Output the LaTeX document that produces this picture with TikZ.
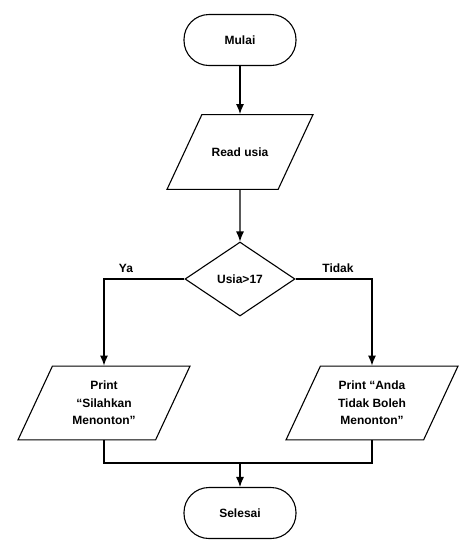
\documentclass[tikz,border=0pt]{standalone}
\usepackage{fontspec}
\setmainfont{Liberation Sans}
\usepackage{tikz}
\usetikzlibrary{shapes.geometric}
\usetikzlibrary{arrows.meta}
\tikzstyle{every node}=[font=\bfseries\fontsize{12}{17.5}\selectfont]
\tikzstyle{terminal}=[draw, rectangle, rounded corners=25pt, minimum width=112pt, minimum height=51pt]
\tikzstyle{io}=[draw, trapezium, trapezium left angle=65, trapezium right angle=115, trapezium stretches body, align=center]
\tikzstyle{decision}=[draw, diamond, minimum width=110pt, minimum height=74pt, inner sep=0pt]

\begin{document}
\begin{tikzpicture}[>={Latex[length=10pt,width=8pt]}, x=1pt, y=-1pt, line width=1.1pt]
            \useasboundingbox (0,0) rectangle (468,550);

            \node [terminal] (mulai) at (240, 40) {Mulai};
            \node [io, inner ysep=33pt, minimum width=146pt] (read) at (240, 152) {Read usia};
            \node [decision] (cek) at (240, 279) {Usia>17};
            \node [io, inner ysep=15pt, minimum width=172pt] (printya) at (104, 403) {Print\\“Silahkan\\Menonton”};
            \node [io, inner ysep=15pt, minimum width=172pt] (printtidak) at (372, 403) {Print “Anda\\Tidak Boleh\\Menonton”};
            \node [terminal] (selesai) at (240, 513) {Selesai};

            \node (ya) at (126, 268) {Ya};
            \node (tidak) at (338, 268) {Tidak};
            \coordinate (gabung) at (240, 463);

            \draw [->] (mulai) -- (read);
            \draw [->] (read) -- (cek);
            \draw [->] (cek.west) -| (printya);
            \draw [->] (cek.east) -| (printtidak);

            \draw (printya) |- (gabung) -| (printtidak);
            \draw [->] (gabung) -- (selesai);
        \end{tikzpicture}
\end{document}
